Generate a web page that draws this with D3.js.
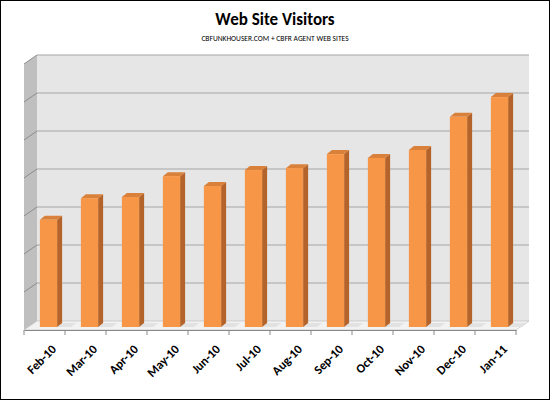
<!DOCTYPE html>
<html><head><meta charset="utf-8">
<script src="https://cdn.jsdelivr.net/npm/d3@7"></script>
<style>body{margin:0;background:#fff}text{font-family:Carlito,Calibri,"Open Sans",sans-serif}</style>
</head><body><div id="chart"></div>
<script>
var months = ['Feb-10','Mar-10','Apr-10','May-10','Jun-10','Jul-10','Aug-10','Sep-10','Oct-10','Nov-10','Dec-10','Jan-11'];
var visitors = [2.82, 3.39, 3.42, 3.97, 3.71, 4.13, 4.18, 4.55, 4.45, 4.66, 5.53, 6.05];
var gridTicks = [0, 1, 2, 3, 4, 5, 6, 7];

var W = 550, H = 400;
var svg = d3.select('#chart').append('svg').attr('width', W).attr('height', H);
svg.append('rect').attr('x', 0.5).attr('y', 0.5).attr('width', W - 1).attr('height', H - 1)
	.attr('fill', '#fff').attr('stroke', '#000');

svg.append('text').attr('x', 275).attr('y', 25).attr('text-anchor', 'middle')
	.style('font-size', '17px').style('font-weight', 'bold').text('Web Site Visitors');
svg.append('text').attr('x', 275).attr('y', 41).attr('text-anchor', 'middle')
	.style('font-size', '7.5px').text('CBFUNKHOUSER.COM + CBFR AGENT WEB SITES');

var dx = 13, dy = 9; // depth offset
var x = d3.scaleBand().domain(months).range([24, 516]).paddingInner(0.58).paddingOuter(0.29);
var y = d3.scaleLinear().domain([0, 7]).range([330, 64]);
var shift = 4;

// back wall (shifted by depth)
svg.append('rect').attr('x', 24 + dx).attr('y', y(7) - dy).attr('width', 492).attr('height', y(0) - y(7))
	.attr('fill', '#e6e6e6');
// side wall
svg.append('path').attr('d', 'M24,' + y(7) + 'L' + (24 + dx) + ',' + (y(7) - dy) + 'L' + (24 + dx) + ',' + (y(0) - dy) + 'L24,' + y(0) + 'Z')
	.attr('fill', '#bfbfbf');
// floor
svg.append('path').attr('d', 'M24,' + y(0) + 'L' + (24 + dx) + ',' + (y(0) - dy) + 'L' + (516 + dx) + ',' + (y(0) - dy) + 'L516,' + y(0) + 'Z')
	.attr('fill', '#f2f2f2').attr('stroke', '#bbb').attr('stroke-width', 0.6);

// gridlines on wall and side
gridTicks.forEach(function(t) {
	if (t === 0) return;
	svg.append('line').attr('x1', 24 + dx).attr('x2', 516 + dx).attr('y1', y(t) - dy).attr('y2', y(t) - dy)
		.attr('stroke', '#a6a6a6').attr('stroke-width', 1.2);
	svg.append('line').attr('x1', 24).attr('x2', 24 + dx).attr('y1', y(t)).attr('y2', y(t) - dy)
		.attr('stroke', '#8c8c8c');
});

// bars
var bw = x.bandwidth(), bd = 5, bh = 4;
var g = svg.selectAll('.bar').data(months).enter().append('g').attr('transform', 'translate(' + shift + ',0)');
g.append('path').attr('d', function(d) {
	var x0 = x(d) + bw, bot = y(0) - 3;
	return 'M' + x0 + ',' + bot + 'L' + (x0 + bd) + ',' + (bot - bh) + 'L' + (x0 + bd + 14) + ',' + (bot - bh) + 'L' + (x0 + 14) + ',' + bot + 'Z';
}).attr('fill', '#dcdcdc').attr('opacity', 0.7);
g.append('path').attr('d', function(d, i) {
	var x0 = x(d) + bw, top = y(visitors[i]) - 3, bot = y(0) - 3;
	return 'M' + x0 + ',' + top + 'L' + (x0 + bd) + ',' + (top - bh) + 'L' + (x0 + bd) + ',' + (bot - bh) + 'L' + x0 + ',' + bot + 'Z';
}).attr('fill', '#b4642a');
g.append('path').attr('d', function(d, i) {
	var x0 = x(d), top = y(visitors[i]) - 3;
	return 'M' + x0 + ',' + top + 'L' + (x0 + bd) + ',' + (top - bh) + 'L' + (x0 + bw + bd) + ',' + (top - bh) + 'L' + (x0 + bw) + ',' + top + 'Z';
}).attr('fill', '#d9803a');
g.append('rect').attr('x', function(d) { return x(d); }).attr('y', function(d, i) { return y(visitors[i]) - 3; })
	.attr('width', bw).attr('height', function(d, i) { return y(0) - y(visitors[i]); })
	.attr('fill', '#f79646');

// x axis
var axis = svg.append('g').attr('transform', 'translate(0,' + y(0) + ')')
	.call(d3.axisBottom(x).tickSize(0).tickPadding(0));
axis.select('.domain').attr('stroke', '#888');
var step = x.step();
d3.range(13).forEach(function(i) {
	var xx = 24 + i * step;
	svg.append('line').attr('x1', xx).attr('x2', xx).attr('y1', y(0)).attr('y2', y(0) + 5).attr('stroke', '#888');
});
axis.selectAll('text').style('font-size', '12.5px').style('font-weight', 'bold').attr('fill', '#000')
	.attr('text-anchor', 'end').attr('dy', 0)
	.attr('transform', 'translate(' + (step / 2 - 8) + ',20) rotate(-45)');
</script></body></html>
